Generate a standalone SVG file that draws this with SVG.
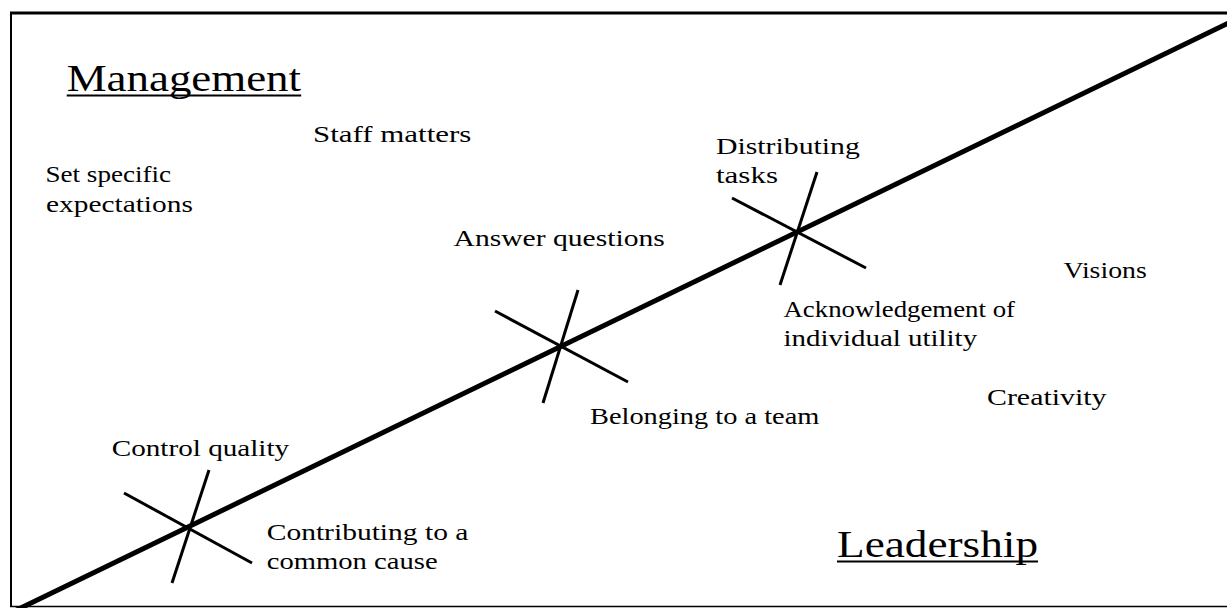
<svg xmlns="http://www.w3.org/2000/svg" width="1227" height="608" viewBox="0 0 1227 608">
  <style>
    .frame { stroke: #000; fill: none; }
    .axis { stroke: #000; stroke-width: 5; stroke-linecap: butt; fill: none; }
    .tick { stroke: #000; stroke-width: 3; stroke-linecap: butt; fill: none; }
    .lbl { font-size: 23px; fill: #000; }
    .title { font-size: 37px; fill: #000; }
    .uline { stroke: #000; stroke-width: 2; }
  </style>
  <rect width="1227" height="608" fill="#fff"/>

  <!-- frame: top, left and bottom edges -->
  <g id="frame" class="frame">
    <line x1="10" y1="13" x2="1227" y2="13" stroke-width="3"/>
    <line x1="11" y1="12" x2="11" y2="607" stroke-width="2"/>
    <line x1="10" y1="606.5" x2="1227" y2="606.5" stroke-width="1.5"/>
  </g>

  <!-- the management / leadership scale and its crossing marks -->
  <g id="connectors">
    <line id="scale" class="axis" x1="16" y1="610.3" x2="1232" y2="21.4"/>
    <g id="mark-1" class="tick">
      <line x1="124" y1="493" x2="252" y2="563"/>
      <line x1="209" y1="470" x2="172" y2="583"/>
    </g>
    <g id="mark-2" class="tick">
      <line x1="495" y1="311" x2="628" y2="382"/>
      <line x1="578" y1="290" x2="543" y2="403"/>
    </g>
    <g id="mark-3" class="tick">
      <line x1="732" y1="198" x2="866" y2="268"/>
      <line x1="817" y1="172" x2="780" y2="285"/>
    </g>
  </g>

  <!-- headings: wide serif, stretched horizontally by the wrapping group -->
  <g id="management">
    <g transform="translate(66.7 91) scale(1.214 1)">
      <text class="title" font-family="Liberation Serif" x="0" y="0">Management</text>
    </g>
    <line class="uline" x1="66.7" y1="95.5" x2="301.2" y2="95.5"/>
  </g>
  <g id="leadership">
    <g transform="translate(837 557) scale(1.223 1)">
      <text class="title" font-family="Liberation Serif" x="0" y="0">Leadership</text>
    </g>
    <line class="uline" x1="837" y1="561.5" x2="1038" y2="561.5"/>
  </g>

  <!-- labels -->
  <g id="staff-matters">
    <g transform="translate(313 142) scale(1.345 1)">
      <text class="lbl" font-family="Liberation Serif" x="0" y="0">Staff matters</text>
    </g>
  </g>
  <g id="set-specific-expectations">
    <g transform="translate(45.5 182) scale(1.177 1)">
      <text class="lbl" font-family="Liberation Serif" x="0" y="0">Set specific</text>
    </g>
    <g transform="translate(46 211.5) scale(1.278 1)">
      <text class="lbl" font-family="Liberation Serif" x="0" y="0">expectations</text>
    </g>
  </g>
  <g id="answer-questions">
    <g transform="translate(453.5 246) scale(1.288 1)">
      <text class="lbl" font-family="Liberation Serif" x="0" y="0">Answer questions</text>
    </g>
  </g>
  <g id="distributing-tasks">
    <g transform="translate(716 154) scale(1.295 1)">
      <text class="lbl" font-family="Liberation Serif" x="0" y="0">Distributing</text>
    </g>
    <g transform="translate(716 183) scale(1.348 1)">
      <text class="lbl" font-family="Liberation Serif" x="0" y="0">tasks</text>
    </g>
  </g>
  <g id="acknowledgement">
    <g transform="translate(783.5 316.5) scale(1.166 1)">
      <text class="lbl" font-family="Liberation Serif" x="0" y="0">Acknowledgement of</text>
    </g>
    <g transform="translate(783.5 345.5) scale(1.258 1)">
      <text class="lbl" font-family="Liberation Serif" x="0" y="0">individual utility</text>
    </g>
  </g>
  <g id="visions">
    <g transform="translate(1063.5 277.5) scale(1.209 1)">
      <text class="lbl" font-family="Liberation Serif" x="0" y="0">Visions</text>
    </g>
  </g>
  <g id="creativity">
    <g transform="translate(987 405) scale(1.299 1)">
      <text class="lbl" font-family="Liberation Serif" x="0" y="0">Creativity</text>
    </g>
  </g>
  <g id="belonging">
    <g transform="translate(590 424) scale(1.234 1)">
      <text class="lbl" font-family="Liberation Serif" x="0" y="0">Belonging to a team</text>
    </g>
  </g>
  <g id="control-quality">
    <g transform="translate(111.7 456) scale(1.269 1)">
      <text class="lbl" font-family="Liberation Serif" x="0" y="0">Control quality</text>
    </g>
  </g>
  <g id="contributing">
    <g transform="translate(266.7 540) scale(1.284 1)">
      <text class="lbl" font-family="Liberation Serif" x="0" y="0">Contributing to a</text>
    </g>
    <g transform="translate(266.7 568.5) scale(1.245 1)">
      <text class="lbl" font-family="Liberation Serif" x="0" y="0">common cause</text>
    </g>
  </g>
</svg>
